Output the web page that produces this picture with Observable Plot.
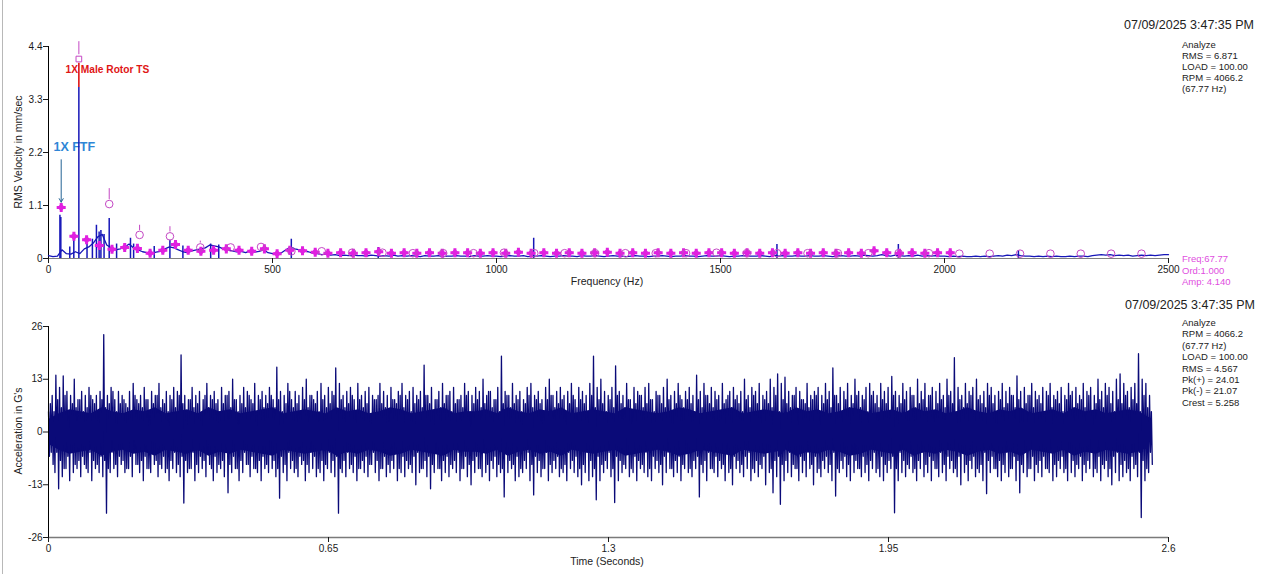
<!DOCTYPE html>
<html>
<head>
<meta charset="utf-8">
<script src="https://cdn.jsdelivr.net/npm/d3@7"></script>
<script src="https://cdn.jsdelivr.net/npm/@observablehq/plot@0.6"></script>
<style>
  html, body { margin: 0; padding: 0; background: #fff; }
  #wrap { position: relative; width: 1280px; height: 574px; overflow: hidden; font-family: "Liberation Sans", Arial, sans-serif; color: #1a1a1a; }
  #wrap .frame { position: absolute; left: 2px; top: 0; width: 1px; height: 574px; background: #b8b8b8; }
  .abs { position: absolute; white-space: nowrap; }
  .date { font-size: 12.5px; line-height: 15px; color: #222; }
  .info { font-size: 9.5px; color: #222; }
  .mag { font-size: 9.5px; color: #e04ee0; line-height: 11.5px; }
  .axt { font-size: 10.5px; color: #222; line-height: 12px; }
  .rot { transform: translate(-50%, -50%) rotate(-90deg); transform-origin: center; }
  #topc, #botc { position: absolute; left: 0; }
  #topc { top: 0; } #botc { top: 290px; }
</style>
</head>
<body>
<div id="wrap">
  <div class="frame"></div>
  <div id="topc"></div>
  <div id="botc"></div>
  <div class="abs date" style="left:1124px;top:17.5px">07/09/2025 3:47:35 PM</div>
  <div class="abs info" style="left:1182px;top:38.5px;line-height:11px">Analyze<br>RMS = 6.871<br>LOAD = 100.00<br>RPM = 4066.2<br>(67.77 Hz)</div>
  <div class="abs mag" style="left:1182px;top:253.3px">Freq:67.77<br>Ord:1.000<br>Amp: 4.140</div>
  <div class="abs date" style="left:1125px;top:297.5px">07/09/2025 3:47:35 PM</div>
  <div class="abs info" style="left:1182px;top:317px;line-height:11.4px">Analyze<br>RPM = 4066.2<br>(67.77 Hz)<br>LOAD = 100.00<br>RMS = 4.567<br>Pk(+) = 24.01<br>Pk(-) = 21.07<br>Crest = 5.258</div>
  <div class="abs axt" style="left:607px;top:281px;transform:translate(-50%,-50%)">Frequency (Hz)</div>
  <div class="abs axt" style="left:607px;top:561px;transform:translate(-50%,-50%)">Time (Seconds)</div>
  <div class="abs axt rot" style="left:18px;top:152px">RMS Velocity in mm/sec</div>
  <div class="abs axt rot" style="left:18px;top:431px">Acceleration in G's</div>
</div>
<script>
// ---------------- DATA ----------------
const freqTicks = [0, 500, 1000, 1500, 2000, 2500];
const velTicks = [0, 1.1, 2.2, 3.3, 4.4];
const timeTicks = [0, 0.65, 1.3, 1.95, 2.6];
const accTicks = [-26, -13, 0, 13, 26];

// Spectrum noise floor, one value every 10 Hz from 0 to 2500 Hz (mm/sec)
const floorStepHz = 10;
const spectrumFloor = [
  0.06,0.04,0.05,0.18,0.10,0.09,0.14,0.10,0.20,0.24,
  0.32,0.45,0.50,0.28,0.22,0.18,0.20,0.24,0.30,0.22,
  0.18,0.14,0.12,0.10,0.13,0.15,0.20,0.24,0.22,0.18,
  0.14,0.12,0.16,0.18,0.20,0.22,0.28,0.26,0.24,0.20,
  0.18,0.16,0.14,0.15,0.12,0.16,0.13,0.15,0.18,0.12,
  0.10,0.08,0.12,0.18,0.24,0.20,0.18,0.16,0.14,0.11,
  0.10,0.08,0.09,0.07,0.08,0.06,0.07,0.06,0.07,0.06,
  0.06,0.05,0.07,0.06,0.05,0.06,0.05,0.07,0.05,0.06,
  0.05,0.06,0.05,0.04,0.06,0.05,0.05,0.06,0.04,0.05,
  0.05,0.06,0.05,0.05,0.04,0.06,0.05,0.05,0.06,0.05,
  0.05,0.04,0.05,0.06,0.05,0.05,0.06,0.04,0.05,0.05,
  0.06,0.05,0.04,0.05,0.05,0.06,0.05,0.05,0.04,0.06,
  0.05,0.05,0.06,0.05,0.04,0.05,0.06,0.05,0.05,0.04,
  0.05,0.06,0.05,0.05,0.04,0.05,0.05,0.06,0.05,0.04,
  0.05,0.05,0.06,0.05,0.05,0.04,0.05,0.06,0.05,0.05,
  0.06,0.05,0.04,0.05,0.05,0.06,0.05,0.05,0.05,0.06,
  0.05,0.04,0.07,0.05,0.06,0.05,0.05,0.06,0.05,0.05,
  0.06,0.05,0.05,0.06,0.05,0.04,0.05,0.06,0.05,0.05,
  0.06,0.05,0.07,0.06,0.05,0.06,0.08,0.06,0.05,0.07,
  0.06,0.05,0.06,0.05,0.07,0.05,0.06,0.05,0.06,0.05,
  0.05,0.04,0.05,0.04,0.05,0.04,0.04,0.05,0.04,0.05,
  0.04,0.05,0.06,0.05,0.07,0.06,0.08,0.06,0.05,0.05,
  0.04,0.05,0.04,0.05,0.04,0.05,0.04,0.04,0.05,0.04,
  0.05,0.05,0.04,0.06,0.07,0.08,0.07,0.08,0.06,0.07,
  0.06,0.07,0.05,0.06,0.07,0.06,0.07,0.06,0.07,0.08,0.08
];

// Discrete spectral lines (Hz, mm/sec)
const peakFreq = [25.5, 27.5, 47.5, 56.5, 67.77, 86, 98, 107, 113, 117, 124, 135.5, 152, 183, 190, 236, 271, 300, 362, 380, 542, 736, 1083, 1626, 1897, 2165];
const peakAmp  = [0.90, 0.85, 0.24, 0.38, 3.55, 0.30, 0.40, 0.69, 0.55, 0.58, 0.50, 0.83, 0.30, 0.42, 0.30, 0.25, 0.38, 0.26, 0.30, 0.28, 0.40, 0.23, 0.42, 0.29, 0.29, 0.16];
const rotorTopSegment = [3.55, 4.05];

// FTF harmonic markers: fundamental and amplitudes of orders 1..71
const ftfHz = 28.35;
const ftfAmp = [
  1.06,0.46,0.39,0.27,0.19,0.23,0.21,0.11,0.17,0.29,
  0.17,0.15,0.17,0.20,0.17,0.15,0.20,0.10,0.17,0.16,
  0.13,0.11,0.12,0.11,0.12,0.14,0.11,0.12,0.11,0.12,
  0.11,0.12,0.12,0.11,0.12,0.11,0.13,0.11,0.12,0.11,
  0.12,0.11,0.12,0.13,0.11,0.12,0.11,0.12,0.11,0.12,
  0.11,0.12,0.12,0.11,0.12,0.11,0.12,0.11,0.12,0.11,
  0.12,0.11,0.12,0.11,0.16,0.12,0.11,0.12,0.11,0.12,0.12
];

// Running-speed harmonic markers: fundamental and amplitudes of orders 1..36
const rotorHz = 67.77;
const rotorAmp = [
  4.14,1.13,0.49,0.46,0.23,0.23,0.24,0.15,0.15,0.12,
  0.12,0.11,0.11,0.11,0.12,0.11,0.11,0.11,0.11,0.11,
  0.11,0.12,0.11,0.11,0.11,0.11,0.11,0.11,0.11,0.10,
  0.10,0.10,0.10,0.10,0.10,0.10
];
const cursorTop = [4.50, 1.45, 0.69, 0.66, 0.36];

// Time waveform (G's) over 2.556 s: per step, a main positive peak, a minor
// negative swing, a minor positive swing and a main negative peak (300 steps).
const waveDuration = 2.556;
const wavePos = [
  5,9,14,11,13.8,10,9,13,8,10, 9,11,8,9,10,24,9,11,8,10,
  9,7,10,12,8,9,11,8,10,9, 12,8,10,9,11,10,19,9,8,11,
  9,10,8,12,9,10,8,11,9,10, 13,8,9,11,10,8,12,9,10,9,
  11,8,16,10,9,12,8,10,9,11, 13,9,8,10,12,9,11,10,15.8,12,
  9,10,11,8,12,9,10,11,9,8, 12,10,9,11,8,10,12,9,10,11,
  9,10,16.5,9,11,8,10,12,9,10, 11,8,9,12,10,9,11,10,13,9,
  10,8,11,18.7,10,9,12,9,10,8, 11,12,9,10,8,11,13,9,10,11,
  9,10,12,8,11,10,9,12,18.7,11, 13,10,9,11,16.3,10,9,12,8,11,
  10,9,11,12,8,10,9,11,13,9, 10,12,8,10,11,9,14,10,12,9,
  11,10,9,12,8,10,11,9,10,13, 9,11,10,12,9,10,13,11,14.3,12,
  13.5,10,9,11,10,8,12,9,10,11, 9,12,10,15.8,9,11,10,12,9,13,
  10,9,11,12,10,9,12,10,11,13.7, 10,9,12,10,11,9,13,10,12,9,
  11,10,12,9,13,10,18.3,11,9,12, 10,11,13,9,10,12,11,9,10,12,
  10,11,9,13.8,10,11,9,12,10,9, 11,10,12,9,10,11,9,12,10,11,
  9,12,10,11,9,13,10,12,11,10, 13,14.3,12,10,11,12,19.3,13,12,9
];
const waveMinorNeg = [
  -6,-8,-5,-7,-9,-6,-5,-8,-7,-6, -9,-5,-7,-8,-6,-7,-9,-5,-8,-6,
  -7,-9,-6,-5,-8,-7,-6,-9,-5,-7, -8,-6,-9,-7,-5,-8,-6,-7,-9,-5,
  -8,-6,-7,-5,-9,-6,-8,-7,-5,-8, -6,-9,-7,-5,-8,-6,-9,-7,-6,-8,
  -5,-7,-9,-6,-8,-5,-7,-9,-6,-7, -8,-5,-6,-9,-7,-8,-5,-7,-6,-9,
  -7,-5,-8,-6,-9,-7,-6,-8,-5,-7, -9,-6,-8,-7,-5,-9,-6,-7,-8,-6,
  -5,-9,-7,-6,-8,-5,-9,-7,-6,-8, -7,-5,-9,-6,-8,-7,-6,-9,-5,-8,
  -7,-6,-8,-9,-5,-7,-8,-6,-9,-7, -5,-8,-6,-7,-9,-5,-8,-7,-6,-9,
  -8,-5,-7,-6,-9,-8,-5,-7,-9,-6, -8,-7,-5,-9,-6,-7,-8,-5,-9,-6,
  -7,-8,-5,-9,-6,-7,-8,-6,-5,-9, -7,-6,-8,-5,-9,-7,-6,-8,-7,-5,
  -9,-6,-7,-8,-5,-9,-6,-7,-8,-6, -5,-9,-7,-8,-6,-5,-9,-7,-6,-8,
  -7,-5,-8,-9,-6,-7,-5,-8,-6,-9, -7,-6,-8,-5,-9,-7,-6,-8,-5,-7,
  -9,-6,-8,-7,-5,-9,-6,-8,-7,-6, -9,-5,-7,-8,-6,-9,-7,-5,-8,-6,
  -7,-9,-5,-8,-6,-7,-9,-6,-5,-8, -7,-6,-9,-8,-5,-7,-6,-9,-7,-8,
  -5,-9,-6,-7,-8,-5,-9,-6,-8,-7, -6,-9,-5,-8,-7,-6,-9,-5,-7,-8,
  -6,-8,-7,-5,-9,-6,-8,-7,-9,-6, -5,-8,-7,-9,-6,-8,-5,-7,-9,-5
];
const waveMinorPos = [
  7,5,8,6,9,4,7,6,8,5, 6,9,7,5,8,6,7,10,5,7,
  8,6,5,9,7,6,8,4,7,9, 6,7,5,8,6,9,7,5,8,6,
  7,4,9,6,8,7,5,7,9,6, 8,5,7,6,9,7,4,8,6,7,
  9,6,8,5,7,10,6,7,5,8, 6,9,7,5,8,6,7,9,5,8,
  6,7,9,5,8,6,7,4,8,9, 7,6,5,8,7,9,6,8,5,7,
  8,6,9,7,5,8,6,7,9,5, 7,8,6,9,5,7,8,6,7,10,
  6,8,5,7,9,6,7,8,5,7, 9,6,8,7,5,8,9,6,7,8,
  5,7,9,6,8,7,5,9,6,8, 7,5,8,6,9,7,6,8,5,7,
  9,6,7,8,5,9,7,6,8,5, 7,9,6,8,7,5,8,6,9,7,
  6,8,5,7,9,6,8,7,5,8, 6,9,7,5,8,7,6,9,5,8,
  7,6,9,5,8,7,6,8,9,5, 7,8,6,9,7,5,8,6,7,9,
  6,8,5,9,7,6,8,7,5,9, 6,7,8,5,9,6,7,8,6,9,
  5,7,8,6,9,7,5,8,6,7, 9,5,8,7,6,9,7,5,8,6,
  7,9,6,8,5,7,9,6,8,7, 5,9,6,8,7,5,8,9,6,7,
  8,6,9,5,7,8,6,9,7,5, 8,7,9,6,8,7,5,9,6,5
];
const waveNeg = [
  -5,-10,-14,-11,-9,-12,-10,-9,-11,-8, -10,-12,-9,-10,-11,-20,-10,-9,-11,-8,
  -10,-9,-11,-8,-10,-12,-9,-10,-8,-11, -9,-10,-12,-9,-10,-11,-17.5,-10,-9,-12,
  -10,-9,-11,-8,-12,-10,-9,-11,-15,-10, -9,-12,-10,-8,-11,-9,-10,-12,-9,-10,
  -9,-11,-16.3,-10,-12,-9,-10,-11,-8,-12, -10,-9,-11,-10,-12,-9,-10,-11,-20,-10,
  -11,-9,-10,-12,-9,-10,-11,-8,-10,-12, -9,-11,-10,-9,-12,-10,-11,-9,-10,-13,
  -10,-9,-11,-14,-10,-9,-12,-10,-11,-9, -10,-12,-9,-11,-13,-10,-9,-11,-10,-12,
  -9,-11,-10,-16,-10,-9,-12,-11,-10,-9, -12,-15.5,-10,-11,-9,-12,-10,-9,-11,-10,
  -12,-9,-10,-11,-13,-10,-12,-11,-16.7,-12, -10,-9,-11,-17.4,-12,-10,-9,-11,-10,-12,
  -9,-10,-11,-12,-9,-10,-13,-10,-9,-11, -10,-12,-9,-10,-11,-9,-16,-10,-12,-9,
  -10,-11,-9,-12,-10,-13,-9,-10,-11,-9, -12,-10,-11,-9,-13,-10,-15,-11,-17.8,-12,
  -10,-11,-9,-12,-10,-11,-9,-13,-10,-11, -9,-10,-12,-15.8,-10,-9,-11,-12,-10,-9,
  -11,-10,-12,-9,-10,-11,-12,-10,-9,-19.9, -12,-10,-11,-9,-10,-12,-9,-11,-10,-12,
  -9,-11,-10,-12,-9,-10,-11,-13,-10,-12, -9,-11,-10,-12,-15.2,-10,-9,-11,-12,-10,
  -11,-9,-12,-15,-10,-11,-9,-12,-10,-11, -9,-10,-12,-11,-9,-10,-12,-10,-11,-9,
  -12,-10,-9,-11,-10,-12,-9,-11,-13,-10, -12,-11,-10,-12,-9,-11,-21.1,-12,-10,-8
];
// Solid dark core half-width of the waveform (G's), 104 points over the record
const waveCore = [
  3,4.5,5.5,5,4.5,6,5,4.5,5.5,5, 6,4.5,5,5.5,4.5,6,5,5.5,4.5,5,
  5.5,6,4.5,5,5.5,5,4.5,6,5,5.5, 4.5,5,6,5.5,4.5,5,5.5,6,4.5,5,
  5,5.5,4.5,6,5,4.5,5.5,5,6,4.5, 5,5.5,5,4.5,6,5.5,5,4.5,5,6,
  5.5,4.5,5,5.5,6,4.5,5,5.5,5,4.5, 6,5,5.5,4.5,5,6,5.5,4.5,5,5.5,
  4.5,6,5,5.5,4.5,5,6,5,4.5,5.5, 5,6,4.5,5,5.5,4.5,6,5,5.5,4.5,
  5,5.5,5,3.5
];

// ---------------- TABLES ----------------
const floorData = spectrumFloor.map((a, i) => ({f: i * floorStepHz, a}));
const peaks = peakFreq.map((f, i) => ({f, a: peakAmp[i]}));
const ftf = ftfAmp.map((a, i) => ({f: (i + 1) * ftfHz, a}));
const rotor = rotorAmp.map((a, i) => ({f: (i + 1) * rotorHz, a, k: i + 1}));
const cursors = cursorTop.map((t, i) => ({f: (i + 1) * rotorHz, y1: rotorAmp[i], y2: t}));

const dt = waveDuration / (wavePos.length - 1);
const wave = [];
wavePos.forEach((p, i) => {
  const t = i * dt;
  wave.push({t, a: p});
  wave.push({t: t + dt * 0.25, a: waveMinorNeg[i]});
  wave.push({t: t + dt * 0.5, a: waveMinorPos[i]});
  wave.push({t: t + dt * 0.75, a: waveNeg[i]});
});
const core = waveCore.map((v, j) => ({t: j * waveDuration / (waveCore.length - 1), v}));

const FONT = "'Liberation Sans', Arial, sans-serif";
const MAG = "#e020e0";
const MAG_LINE = "#c448c4";
const BLUE = "#1616b8";
const NAVY = "#0a0a78";

// ---------------- TOP: SPECTRUM ----------------
const spectrumChart = Plot.plot({
  width: 1280, height: 290,
  marginLeft: 48, marginRight: 112, marginTop: 46, marginBottom: 32,
  style: {fontFamily: FONT, fontSize: "10px", color: "#1a1a1a", background: "transparent"},
  x: {domain: [0, 2500]},
  y: {domain: [0, 4.4]},
  marks: [
    Plot.ruleY([0], {stroke: "#808080", strokeWidth: 1}),
    Plot.ruleX([0], {y1: 0, y2: 4.4, stroke: "#000"}),
    Plot.axisY({ticks: velTicks, tickSize: 5, tickPadding: 1, tickFormat: d => String(d), label: null, fontSize: 10}),
    Plot.axisX({ticks: freqTicks, tickSize: 5, tickPadding: 2, tickFormat: d => String(d), label: null, fontSize: 10}),
    Plot.text(["1X FTF"], {x: 11, y: 2.32, text: d => d, textAnchor: "start", fill: "#2e86d6", fontWeight: "bold", fontSize: 12.5}),
    Plot.text(["1X Male Rotor TS"], {x: 38, y: 3.92, text: d => d, textAnchor: "start", fill: "#e01515", fontWeight: "bold", fontSize: 10.2}),
    Plot.line(floorData, {x: "f", y: "a", stroke: BLUE, strokeWidth: 1.3}),
    Plot.ruleX(peaks, {x: "f", y1: 0, y2: "a", stroke: BLUE, strokeWidth: 1.5}),
    Plot.ruleX([rotorHz], {y1: rotorTopSegment[0], y2: rotorTopSegment[1], stroke: "#e01515", strokeWidth: 1.6}),
    Plot.arrow([0], {x1: ftfHz, x2: ftfHz, y1: 2.05, y2: 1.17, stroke: "#246394", strokeWidth: 1, headLength: 6}),
    Plot.dot(ftf, {x: "f", y: "a", symbol: "square", rotate: 45, r: 3.1, fill: MAG, stroke: "none"}),
    Plot.dot(ftf, {x: "f", y: "a", symbol: "cross", r: 3.8, fill: MAG, stroke: "none"}),
    Plot.ruleX(cursors, {x: "f", y1: d => d.y1 + 0.09, y2: "y2", stroke: MAG_LINE, strokeWidth: 1}),
    Plot.dot(rotor.filter(d => d.k > 1), {x: "f", y: "a", r: 3.8, fill: "none", stroke: MAG_LINE, strokeWidth: 1}),
    Plot.dot(rotor.filter(d => d.k === 1), {x: "f", y: "a", symbol: "square", r: 3.2, fill: "white", stroke: MAG_LINE, strokeWidth: 1})
  ]
});
document.getElementById("topc").appendChild(spectrumChart);

// ---------------- BOTTOM: TIME WAVEFORM ----------------
const waveChart = Plot.plot({
  width: 1280, height: 284,
  marginLeft: 48, marginRight: 112, marginTop: 36, marginBottom: 37,
  style: {fontFamily: FONT, fontSize: "10px", color: "#1a1a1a", background: "transparent"},
  x: {domain: [0, 2.6]},
  y: {domain: [-26, 26]},
  marks: [
    Plot.areaY(core, {x: "t", y1: d => -d.v, y2: "v", fill: NAVY}),
    Plot.line(wave, {x: "t", y: "a", stroke: NAVY, strokeWidth: 1.3}),
    Plot.ruleY([-26], {stroke: "#7a7a7a", strokeWidth: 1.3}),
    Plot.ruleX([0], {y1: -26, y2: 26, stroke: "#000"}),
    Plot.axisY({ticks: accTicks, tickSize: 5, tickPadding: 1, tickFormat: d => String(d), label: null, fontSize: 10}),
    Plot.axisX({ticks: timeTicks, tickSize: 5, tickPadding: 2, tickFormat: d => String(d), label: null, fontSize: 10})
  ]
});
document.getElementById("botc").appendChild(waveChart);
</script>
</body>
</html>
